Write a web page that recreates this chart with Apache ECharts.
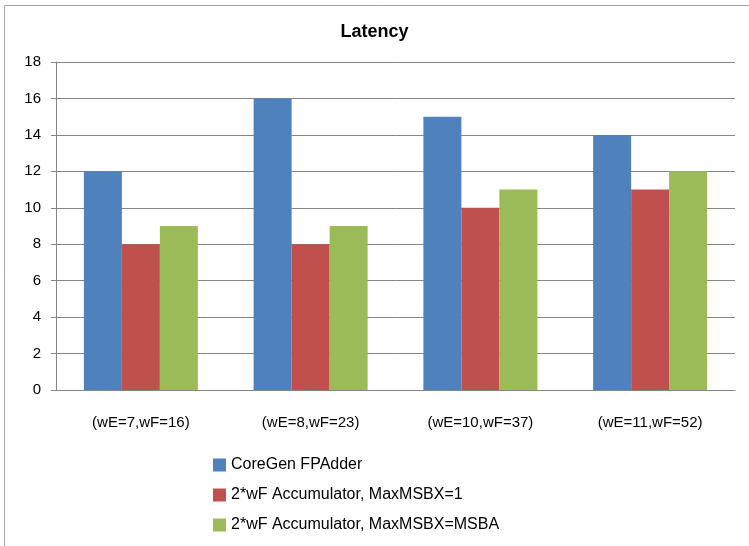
<!DOCTYPE html>
<html>
<head>
<meta charset="utf-8">
<script src="https://cdn.jsdelivr.net/npm/echarts@6/dist/echarts.min.js"></script>
<style>
  html, body { margin: 0; padding: 0; background: #fff; }
  #chart { width: 749px; height: 546px; }
</style>
</head>
<body>
<div id="chart"></div>
<script>
const categories = ['(wE=7,wF=16)', '(wE=8,wF=23)', '(wE=10,wF=37)', '(wE=11,wF=52)'];
const seriesNames = [
  'CoreGen FPAdder',
  '2*wF Accumulator, MaxMSBX=1',
  '2*wF Accumulator, MaxMSBX=MSBA',
];
const coreGen = [12, 16, 15, 14];
const accMsb1 = [8, 8, 10, 11];
const accMsba = [9, 9, 11, 12];
const colors = ['#4F81BD', '#C0504D', '#9BBB59'];

const font = 'Liberation Sans, Arial, sans-serif';
const chart = echarts.init(document.getElementById('chart'));

chart.setOption({
  animation: false,
  textStyle: { fontFamily: font },
  graphic: [{
    type: 'rect',
    shape: { x: 4.5, y: 5.5, width: 760, height: 560 },
    style: { fill: 'none', stroke: '#A6A6A6', lineWidth: 1 },
  }],
  title: {
    text: 'Latency',
    left: 'center',
    top: 18,
    textStyle: { fontSize: 18, fontWeight: 'bold', color: '#000', fontFamily: font },
  },
  legend: {
    orient: 'vertical',
    left: 208,
    top: 452,
    itemGap: 14,
    itemWidth: 13,
    itemHeight: 13,
    icon: 'rect',
    textStyle: { fontSize: 16, color: '#000', fontFamily: font },
    data: seriesNames,
  },
  grid: { left: 56, right: 14, top: 62, bottom: 156 },
  xAxis: {
    type: 'category',
    data: categories,
    axisLine: { lineStyle: { color: '#868686' } },
    axisTick: { show: false },
    axisLabel: { color: '#000', fontSize: 15, margin: 25 },
  },
  yAxis: {
    type: 'value',
    min: 0,
    max: 18,
    interval: 2,
    axisLine: { show: true, lineStyle: { color: '#868686' } },
    axisTick: { show: true, length: 5, lineStyle: { color: '#868686' } },
    axisLabel: { color: '#000', fontSize: 15, margin: 15 },
    splitLine: { lineStyle: { color: '#868686' } },
  },
  series: [
    { name: seriesNames[0], type: 'bar', data: coreGen, itemStyle: { color: colors[0] }, barWidth: 38, barGap: '0%' },
    { name: seriesNames[1], type: 'bar', data: accMsb1, itemStyle: { color: colors[1] }, barWidth: 38, barGap: '0%' },
    { name: seriesNames[2], type: 'bar', data: accMsba, itemStyle: { color: colors[2] }, barWidth: 38, barGap: '0%' },
  ],
});
</script>
</body>
</html>
